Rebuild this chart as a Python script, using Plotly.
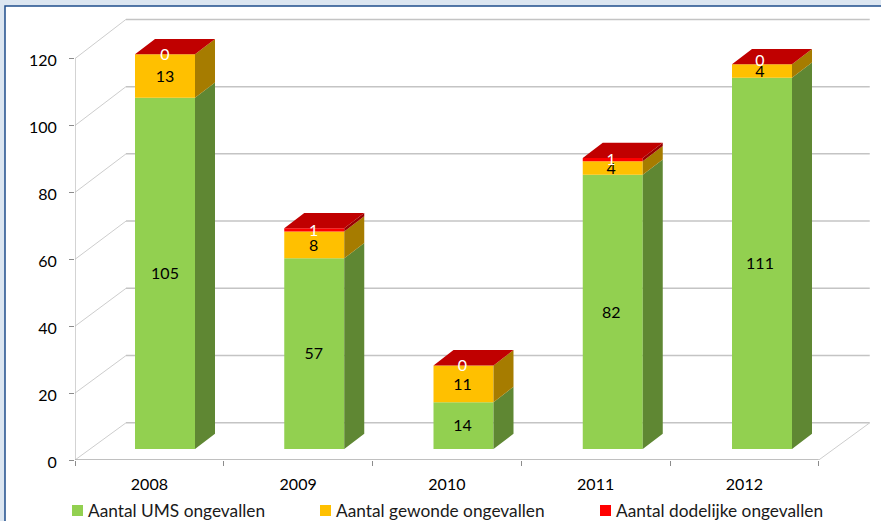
import plotly.graph_objects as go

# Accident counts per year
years = ["2008", "2009", "2010", "2011", "2012"]
ums = [105, 57, 14, 82, 111]
gewond = [13, 8, 11, 4, 4]
dodelijk = [0, 1, 0, 1, 0]
y_ticks = [0, 20, 40, 60, 80, 100, 120]

series_names = ["Aantal UMS ongevallen", "Aantal gewonde ongevallen", "Aantal dodelijke ongevallen"]
front_colors = ["#92D050", "#FFC000", "#FF0000"]
side_colors = ["#5F8733", "#A67C00", "#990000"]
top_color = "#C00000"
label_colors = ["#000000", "#000000", "#FFFFFF"]

FONT = "Lato, Carlito, Calibri, sans-serif"
WIDTH, HEIGHT = 881, 521
LEFT, RIGHT, TOP, BOTTOM = 75, 6, 15, 61
PX_X = 148.75   # pixels per category
PX_Y = 3.345    # pixels per unit of value

# Oblique projection offsets, in axis units
wall_dx, wall_dy = 51 / PX_X, 37.2 / PX_Y
wall_stretch = 1.005
bar_dx, bar_dy = 20 / PX_X, 15.3 / PX_Y
bar_lift = 11 / PX_Y
bar_w = 60 / PX_X
bar_start = 90 / PX_X
bar_step = 149.25 / PX_X
label_drop = 1.8 / PX_Y
n = len(years)

centers = [bar_start + i * bar_step for i in range(n)]
label_x = [bar_start + i for i in range(n)]
# the 2012 top label sits slightly above its segment
top_label_nudge = [0, 0, 0, 0, 1.2]

values = [ums, gewond, dodelijk]
bases = []
running = [0] * n
for vals in values:
    bases.append(list(running))
    running = [r + v for r, v in zip(running, vals)]
totals = running

fig = go.Figure()

# Front faces
for name, vals, base, color in zip(series_names, values, bases, front_colors):
    fig.add_trace(go.Bar(
        x=centers, y=vals, base=[b + bar_lift for b in base], width=bar_w, name=name,
        marker=dict(color=color, line=dict(width=0)), showlegend=False, hoverinfo="skip",
    ))


def polygons(faces):
    xs, ys = [], []
    for face in faces:
        xs += [p[0] for p in face] + [face[0][0], None]
        ys += [p[1] for p in face] + [face[0][1], None]
    return xs, ys


# Side faces
for vals, base, color in zip(values, bases, side_colors):
    faces = []
    for c, v, b in zip(centers, vals, base):
        if v == 0:
            continue
        xr = c + bar_w / 2
        lo, hi = b + bar_lift, b + v + bar_lift
        faces.append([(xr, lo), (xr, hi), (xr + bar_dx, hi + bar_dy), (xr + bar_dx, lo + bar_dy)])
    xs, ys = polygons(faces)
    fig.add_trace(go.Scatter(x=xs, y=ys, mode="lines", fill="toself", fillcolor=color,
                             line=dict(width=0, color=color), showlegend=False, hoverinfo="skip"))

# Top faces
faces = []
for c, t in zip(centers, totals):
    xl, xr, y = c - bar_w / 2, c + bar_w / 2, t + bar_lift
    faces.append([(xl, y), (xr, y), (xr + bar_dx, y + bar_dy), (xl + bar_dx, y + bar_dy)])
xs, ys = polygons(faces)
fig.add_trace(go.Scatter(x=xs, y=ys, mode="lines", fill="toself", fillcolor=top_color,
                         line=dict(width=0, color=top_color), showlegend=False, hoverinfo="skip"))

# Value labels
for k, (vals, base, color) in enumerate(zip(values, bases, label_colors)):
    ypos = [b + v / 2 + bar_lift - label_drop for b, v in zip(base, vals)]
    if k == 2:
        ypos = [y + d for y, d in zip(ypos, top_label_nudge)]
    fig.add_trace(go.Scatter(
        x=label_x, y=ypos, mode="text", text=[str(v) for v in vals],
        textfont=dict(family=FONT, size=16, color=color),
        textposition="middle center", showlegend=False, hoverinfo="skip",
    ))


def line(x0, y0, x1, y1, color, width):
    return dict(type="line", xref="x", yref="y", x0=x0, y0=y0, x1=x1, y1=y1,
                layer="below", line=dict(color=color, width=width))


shapes = []
PW, PH = WIDTH - LEFT - RIGHT, HEIGHT - TOP - BOTTOM


def px_x(p):
    return (p - LEFT) / PW


def px_y(p):
    return (HEIGHT - BOTTOM - p) / PH


# Panel behind the chart
shapes.append(dict(type="rect", xref="paper", yref="paper", layer="below",
                   x0=px_x(5), x1=px_x(900), y0=px_y(6), y1=px_y(540),
                   fillcolor="#FFFFFF", line=dict(color="#1F4E8C", width=1.5)))

# Wall and floor gridlines
for t in y_ticks:
    back = t * wall_stretch + wall_dy
    shapes.append(line(wall_dx, back, n + wall_dx, back, "#C4C4C4", 1.5))
    shapes.append(line(0, t, wall_dx, back, "#CDCDCD", 1))
shapes.append(line(n, 0, n + wall_dx, wall_dy, "#CDCDCD", 1))

# Front axis lines
shapes.append(line(0, 0, 0, y_ticks[-1], "#B5B5B5", 1.2))
shapes.append(line(0, 0, n, 0, "#ABABAB", 1.5))

# Legend row
annotations = []
swatches = [72, 320, 600]
for name, color, sx in zip(series_names, front_colors, swatches):
    shapes.append(dict(type="rect", xref="paper", yref="paper", layer="above",
                       x0=px_x(sx), x1=px_x(sx + 11), y0=px_y(505), y1=px_y(516),
                       fillcolor=color, line=dict(width=0)))
    annotations.append(dict(xref="paper", yref="paper", x=px_x(sx + 14), y=px_y(510),
                            xanchor="left", yanchor="middle", showarrow=False, text=name,
                            font=dict(family=FONT, size=17.3, color="#1A1A1A")))

fig.update_layout(
    width=WIDTH, height=HEIGHT, autosize=False,
    margin=dict(l=LEFT, r=RIGHT, t=TOP, b=BOTTOM, pad=0),
    paper_bgcolor="#DCE6F1", plot_bgcolor="rgba(0,0,0,0)",
    barmode="overlay", showlegend=False, shapes=shapes, annotations=annotations,
    xaxis=dict(
        range=[0, PW / PX_X], showgrid=False, zeroline=False, showline=False,
        tickmode="array", tickvals=[i + 0.5 for i in range(n)], ticktext=years, ticks="",
        ticklabelstandoff=13, tickfont=dict(family=FONT, size=16, color="#000000"),
        minor=dict(tickmode="array", tickvals=list(range(n + 1)), ticks="outside",
                   ticklen=5, tickwidth=1, tickcolor="#8C8C8C", showgrid=False),
    ),
    yaxis=dict(
        range=[0, PH / PX_Y], showgrid=False, zeroline=False, showline=False,
        tickmode="array", tickvals=y_ticks, ticks="outside", ticklen=5, tickwidth=1,
        tickcolor="#8C8C8C", ticklabelstandoff=9, ticklabelshift=2,
        tickfont=dict(family=FONT, size=16, color="#000000"),
    ),
)

fig.write_html("out.html")
